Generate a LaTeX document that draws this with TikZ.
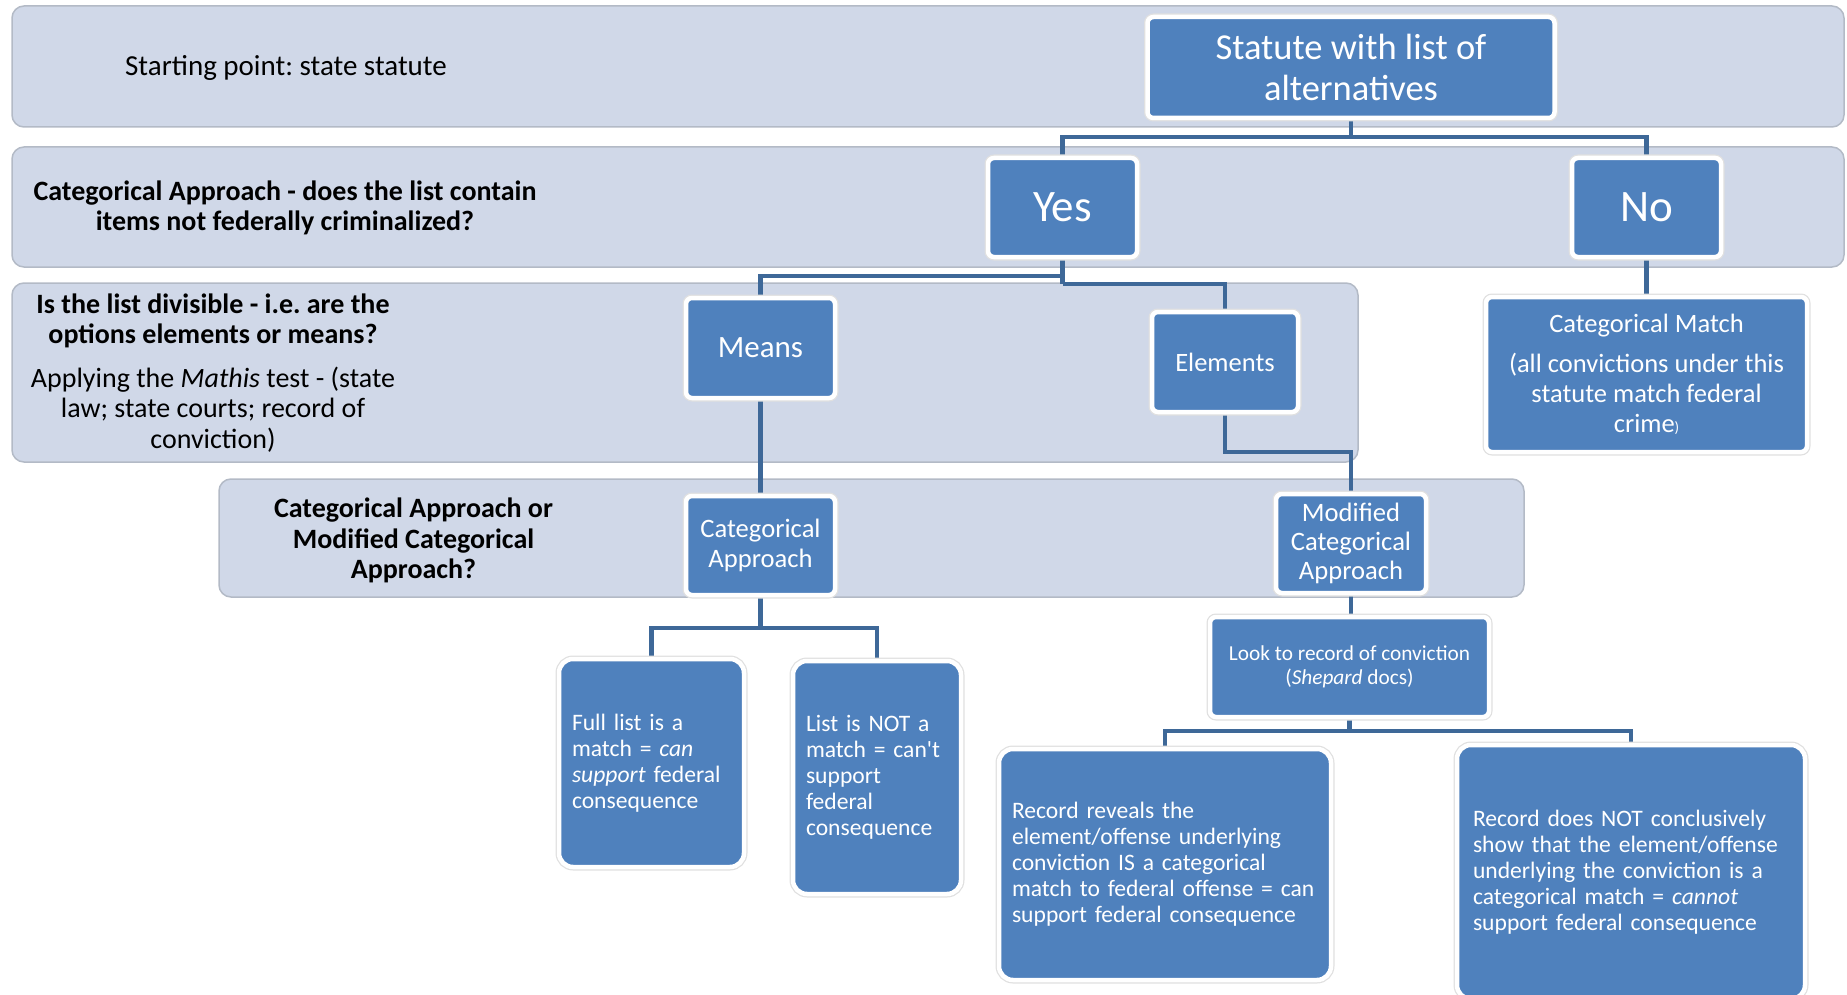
\documentclass[tikz,border=0pt]{standalone}
\usepackage{fontspec}
\setmainfont{Carlito}
\definecolor{bandfill}{HTML}{D0D8E8}
\definecolor{bandline}{HTML}{B3BAC6}
\definecolor{nodefill}{HTML}{4F81BD}
\definecolor{connc}{HTML}{3E6898}
\pgfdeclarelayer{back}
\pgfdeclarelayer{mid}
\pgfsetlayers{back,mid,main}
\newcommand{\myfs}[2]{\fontsize{#1}{#2}\selectfont}
\tikzset{
 band/.style={fill=bandfill, draw=bandline, line width=1.5pt, rounded corners=12pt},
 box/.style={rectangle, rounded corners=6pt, fill=nodefill, draw=white, line width=4.5pt,
   preaction={draw=black!12, line width=7pt}, text=white, inner sep=0pt, align=center},
 bigbox/.style={box, rounded corners=14pt, align=left},
 conn/.style={draw=connc, line width=4.5pt},
 lbl/.style={align=center, text=black, inner sep=0pt},
}
\begin{document}
\frenchspacing
\begin{tikzpicture}[x=1pt,y=-1pt]
\useasboundingbox (0,0) rectangle (1847,995);
% bands
\begin{pgfonlayer}{back}
\draw[band] (12,6) rectangle (1844,127);
\draw[band] (12,147) rectangle (1844,267);
\draw[band] (12,283) rectangle (1358,462);
\draw[band] (219,479) rectangle (1524,597);
\end{pgfonlayer}
% band labels
\node[lbl, font=\myfs{29}{34}] (t1) at (286,68) {Starting point: state statute};
\node[lbl, font=\bfseries\myfs{28}{30.6}] (t2) at (285,208) {Categorical Approach - does the list contain\\items not federally criminalized?};
\node[lbl, font=\myfs{28}{30.4}] (t3) at (213,373) {\textbf{Is the list divisible - i.e. are the}\\\textbf{options elements or means?}\\[13pt]Applying the \textit{Mathis} test - (state\\law; state courts; record of\\conviction)};
\node[lbl, font=\bfseries\myfs{28}{30.4}] (t4) at (413.5,540.5) {Categorical Approach or\\Modified Categorical\\Approach?};
% boxes
\node[box, minimum width=407pt, minimum height=101pt, font=\myfs{36.5}{41.5}] (statute) at (1351,67.5) {Statute with list of\\alternatives};
\node[box, minimum width=149pt, minimum height=99pt, font=\myfs{45}{50}] (yes) at (1062.5,207.5) {Yes};
\node[box, minimum width=149pt, minimum height=99pt, font=\myfs{45}{50}] (no) at (1646.5,207.5) {No};
\node[box, minimum width=149pt, minimum height=100pt, font=\myfs{31}{36}] (means) at (760.5,348) {Means};
\node[box, minimum width=146pt, minimum height=100pt, font=\myfs{26.5}{30}] (elements) at (1225,362) {Elements};
\node[box, minimum width=321pt, minimum height=155pt, font=\myfs{26.5}{30}] (catmatch) at (1646.5,374.5) {Categorical Match\\[10pt](all convictions under this\\statute match federal\\crime{\myfs{15}{15})}};
\node[box, minimum width=149pt, minimum height=99pt, font=\myfs{26.6}{30}] (catappr) at (760.5,545.5) {Categorical\\Approach};
\node[box, minimum width=150pt, minimum height=99pt, font=\myfs{26.6}{29}] (modified) at (1351,543.5) {Modified\\Categorical\\Approach};
\node[box, minimum width=279pt, minimum height=100pt, font=\myfs{21.3}{24}] (look) at (1349.5,667) {Look to record of conviction\\(\textit{Shepard} docs)};
\node[bigbox, minimum width=185pt, minimum height=208pt, inner xsep=13pt, text width=159pt, font=\myfs{23.6}{26}] (full) at (651.5,763) {Full list is a\\match = \textit{can}\\\mbox{\textit{support} federal}\\consequence};
\node[bigbox, minimum width=168pt, minimum height=233pt, inner xsep=13pt, text width=142pt, font=\myfs{23.6}{26}] (listnot) at (877,777.5) {List is NOT a\\\mbox{match = can\textquotesingle t}\\support\\federal\\consequence};
\node[bigbox, minimum width=332pt, minimum height=231pt, inner xsep=13pt, text width=306pt, font=\myfs{23.6}{26}] (recyes) at (1165,864.5) {Record reveals the\\\mbox{element/offense underlying}\\\mbox{conviction IS a categorical}\\\mbox{match to federal offense = can}\\\mbox{support federal consequence}};
\node[bigbox, minimum width=348pt, minimum height=254pt, inner xsep=16pt, text width=316pt, font=\myfs{23.6}{26}] (recnot) at (1631,872) {\mbox{Record does NOT conclusively}\\\mbox{show that the element/offense}\\\mbox{underlying the conviction is a}\\\mbox{categorical match = \textit{cannot}}\\\mbox{support federal consequence}};
% connectors
\begin{pgfonlayer}{mid}
\coordinate (jTop) at (0,137);
\coordinate (jYM) at (0,276);
\coordinate (jYE) at (0,284);
\coordinate (jEM) at (0,452);
\coordinate (jCA) at (0,628);
\coordinate (jLK) at (0,731);
\draw[conn] (statute.south) -- (statute.south |- jTop);
\draw[conn] (yes.north) -- (yes.north |- jTop) -- (no.north |- jTop) -- (no.north);
\draw[conn] (yes.south) -- (yes.south |- jYE);
\draw[conn] (yes.south |- jYM) -| (means.north);
\draw[conn] (yes.south |- jYE) -| (elements.north);
\draw[conn] (no.south) -- (catmatch.north);
\draw[conn] (means.south) -- (catappr.north);
\draw[conn] (elements.south) -- (elements.south |- jEM) -| (modified.north);
\draw[conn] (catappr.south) -- (catappr.south |- jCA);
\draw[conn] (full.north) -- (full.north |- jCA) -- (listnot.north |- jCA) -- (listnot.north);
\draw[conn] (modified.south) -- (modified.south |- look.north);
\draw[conn] (look.south) -- (look.south |- jLK);
\draw[conn] (recyes.north) -- (recyes.north |- jLK) -- (recnot.north |- jLK) -- (recnot.north);
\end{pgfonlayer}
\end{tikzpicture}
\end{document}
